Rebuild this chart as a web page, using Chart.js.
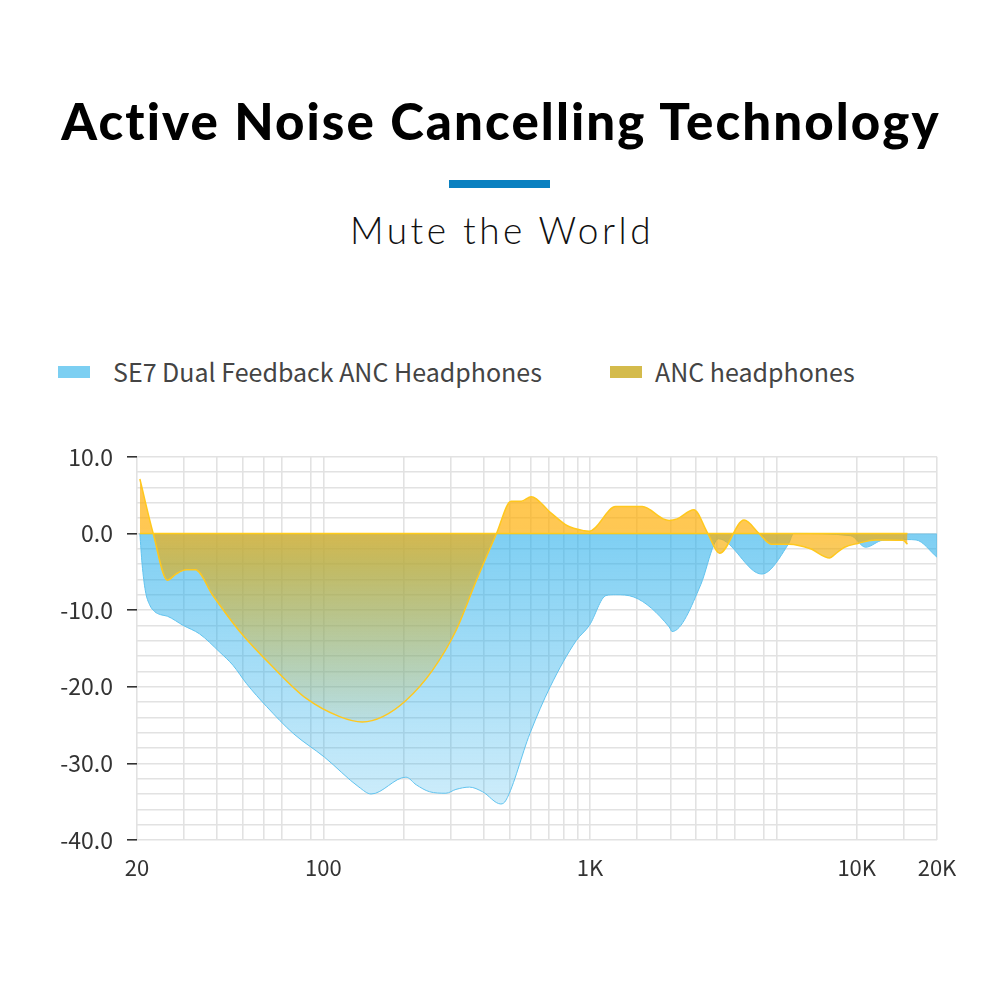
<!DOCTYPE html>
<html>
<head>
<meta charset="utf-8">
<script src="https://cdn.jsdelivr.net/npm/chart.js@4.4.1/dist/chart.umd.min.js"></script>
<style>
  body { margin: 0; background: #fff; width: 1000px; height: 1000px; position: relative; overflow: hidden; }
  .title { position: absolute; top: 91px; left: 0; width: 1000px; text-align: center; padding-left: 2px; box-sizing: border-box;
    font-family: "Lato", sans-serif; font-weight: 900; font-size: 51px; letter-spacing: 2.1px; color: #000; line-height: 60px; }
  .bar { position: absolute; left: 449px; top: 180px; width: 101px; height: 8px; background: #0a80c0; }
  .sub { position: absolute; top: 205px; left: 0; width: 1000px; text-align: center; padding-left: 4px; box-sizing: border-box;
    font-family: "Lato", sans-serif; font-weight: 300; font-size: 37px; letter-spacing: 3.5px; color: #111; line-height: 50px; }
  .lg { position: absolute; top: 356px; font-family: "Noto Sans CJK SC", sans-serif; font-size: 25px; color: #444; line-height: 30px; }
  .sw { position: absolute; top: 366px; width: 32px; height: 12px; }
  #wrap { position: absolute; left: 0; top: 433px; width: 1000px; height: 467px; }
</style>
</head>
<body>
<div class="title">Active Noise Cancelling Technology</div>
<div class="bar"></div>
<div class="sub">Mute the World</div>
<div class="sw" style="left:58px;background:#7ccff2"></div>
<div class="lg" style="left:113px">SE7 Dual Feedback ANC Headphones</div>
<div class="sw" style="left:610px;background:#d4bb4c"></div>
<div class="lg" style="left:655px">ANC headphones</div>
<div id="wrap"><canvas id="anc" width="1000" height="467"></canvas></div>
<script>
//Data//
const seriesNames = ["SE7 Dual Feedback ANC Headphones", "ANC headphones"];

const se7Freq = [20.5, 20.9, 21.5, 22.3, 23.3, 24.5, 26, 29.8, 34.3, 40.9, 45.8, 51.5, 61.3, 77.1, 101, 136, 151,
  204, 223, 250, 288, 314, 353, 395, 463, 484, 595, 709, 887, 994, 1148, 1247, 1460, 1980, 2030,
  2600, 2920, 3030, 4400, 5560, 5800, 9500, 10800, 12500, 15500, 16700, 20000];
const se7Val = [0, -4, -7.5, -9.3, -10.2, -10.6, -10.8, -12, -13.1, -15.5, -17.2, -19.6, -22.6, -26.1, -29.2, -33.1, -34.0,
  -31.8, -32.8, -33.7, -33.9, -33.4, -33.1, -33.7, -35.3, -34.8, -26.1, -20, -14, -12, -8.1, -8, -8.3, -12.2, -12.8,
  -6.7, -1.4, -0.7, -5.3, -1.3, 0, -0.3, -1.8, -0.9, -0.8, -0.85, -3.1];

const ancFreq = [20.5, 23, 26, 28, 30.6, 33.1, 38.5, 48.3, 64.5, 86, 115, 140, 167, 204, 256, 314, 375, 446,
  506, 552, 602, 709, 822, 950, 994, 1247, 1570, 1880, 1980, 2120, 2450, 2750, 3060, 3780, 4300, 4780,
  5600, 6700, 7920, 8300, 9000, 10100, 11800, 14900, 15500];
const ancVal = [7.1, 0, -6.1, -5.3, -4.75, -4.75, -8.1, -12.7, -17.4, -21.5, -23.9, -24.6, -23.9, -21.8, -17.9, -12.7, -6.1, 0,
  4.2, 4.2, 4.8, 2.75, 1.0, 0.36, 0.3, 3.5, 3.5, 1.9, 1.7, 1.9, 3.1, 0.15, -2.6, 1.75, 0, -1.4,
  -1.4, -2, -3.2, -2.7, -1.8, -1.3, -0.85, -0.9, -1.4];

const xGridLines = [20, 30, 40, 50, 60, 70, 90, 100, 200, 300, 400, 500, 600, 700, 800, 900, 1000,
  1500, 2000, 2500, 3000, 3500, 4500, 5000, 10000, 15000, 20000];
const xLabels = { 20: "20", 100: "100", 1000: "1K", 10000: "10K", 20000: "20K" };
//Akhir Data//

function toPoints(xs, ys) {
  return xs.map((x, i) => ({ x: x, y: ys[i] }));
}

function blueFill(context) {
  const chart = context.chart;
  if (!chart.chartArea) return "rgba(40,175,235,0.6)";
  const y = chart.scales.y;
  const g = chart.ctx.createLinearGradient(0, y.getPixelForValue(0), 0, y.getPixelForValue(-36));
  g.addColorStop(0, "rgba(40,175,235,0.6)");
  g.addColorStop(1, "rgba(40,175,235,0.22)");
  return g;
}

function goldFill(context) {
  const chart = context.chart;
  if (!chart.chartArea) return "rgba(255,173,0,0.67)";
  const y = chart.scales.y;
  const top = y.getPixelForValue(10);
  const zero = y.getPixelForValue(0);
  const bottom = y.getPixelForValue(-27);
  const g = chart.ctx.createLinearGradient(0, top, 0, bottom);
  const z = (zero - top) / (bottom - top);
  g.addColorStop(0, "rgba(255,173,0,0.7)");
  g.addColorStop(z, "rgba(255,173,0,0.67)");
  g.addColorStop(z + (1 - z) * 0.15, "rgba(235,170,0,0.6)");
  g.addColorStop(1, "rgba(220,170,0,0.02)");
  return g;
}

// garis nol untuk area ANC
const zeroLine = {
  id: "zeroLine",
  afterDatasetsDraw(chart) {
    const x = chart.scales.x, y = chart.scales.y, ctx = chart.ctx;
    ctx.save();
    ctx.strokeStyle = "#ffcc1a";
    ctx.lineWidth = 1.5;
    ctx.beginPath();
    ctx.moveTo(x.getPixelForValue(ancFreq[0]), y.getPixelForValue(0));
    ctx.lineTo(x.getPixelForValue(ancFreq[ancFreq.length - 1]), y.getPixelForValue(0));
    ctx.stroke();
    ctx.restore();
  }
};

const data = {
  datasets: [
    {
      label: seriesNames[1],
      data: toPoints(ancFreq, ancVal),
      borderColor: "#ffc81e",
      borderWidth: 1.5,
      backgroundColor: goldFill,
      fill: "origin",
      pointRadius: 0,
      cubicInterpolationMode: "monotone",
      order: 0,
    },
    {
      label: seriesNames[0],
      data: toPoints(se7Freq, se7Val),
      borderColor: "#62c3ee",
      borderWidth: 1,
      backgroundColor: blueFill,
      fill: "origin",
      pointRadius: 0,
      cubicInterpolationMode: "monotone",
      order: 1,
    },
  ],
};

const config = {
  type: "line",
  data: data,
  plugins: [zeroLine],
  options: {
    responsive: false,
    animation: false,
    layout: { padding: { left: 0, right: 63, top: 9, bottom: 20 } },
    plugins: {
      legend: { display: false },
      tooltip: { enabled: false },
    },
    scales: {
      x: {
        type: "logarithmic",
        min: 20,
        max: 20000,
        afterBuildTicks: (scale) => {
          scale.ticks = xGridLines.map((v) => ({ value: v }));
        },
        afterFit: (scale) => { scale.height = 40; },
        grid: { color: "#e2e2e2", lineWidth: 1.6, drawTicks: false },
        border: { display: false },
        ticks: {
          autoSkip: false,
          maxRotation: 0,
          padding: 14,
          color: "#333",
          font: { family: "Noto Sans CJK SC", size: 22, weight: "400" },
          callback: (value) => xLabels[value] || "",
        },
      },
      y: {
        min: -40,
        max: 10,
        afterFit: (scale) => { scale.width = 137; },
        grid: {
          color: "#e2e2e2",
          lineWidth: 1.6,
          tickLength: 14,
          tickWidth: 1.6,
          tickBorderDash: [10, 4],
          tickBorderDashOffset: 10,
          tickColor: (ctx) => (ctx.tick && ctx.tick.value % 10 === 0 ? "#333" : "rgba(0,0,0,0)"),
        },
        border: { display: false },
        ticks: {
          stepSize: 2,
          autoSkip: false,
          padding: 10,
          color: "#333",
          font: { family: "Noto Sans CJK SC", size: 23, weight: "400" },
          callback: (value) => (value % 10 === 0 ? value.toFixed(1) : ""),
        },
      },
    },
  },
};

const ancChart = new Chart(document.getElementById("anc").getContext("2d"), config);
</script>
</body>
</html>
